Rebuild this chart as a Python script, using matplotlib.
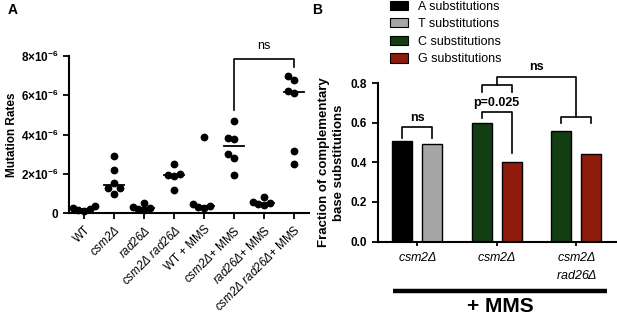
import numpy as np
import matplotlib
matplotlib.use("Agg")
import matplotlib.pyplot as plt
from matplotlib.patches import Patch

plt.rcParams['font.family'] = ['Liberation Sans', 'DejaVu Sans']
plt.rcParams['mathtext.fontset'] = 'custom'
# digits inside \mathit fall back to rm, so make rm italic too
plt.rcParams['mathtext.rm'] = 'Liberation Sans:italic'
plt.rcParams['mathtext.it'] = 'Liberation Sans:italic'
plt.rcParams['mathtext.bf'] = 'Liberation Sans:bold'

# ---- panel A data (mutation rates, x1e-6) ----
strains = [r"WT", r"$\mathit{csm2\Delta}$", r"$\mathit{rad26\Delta}$",
           r"$\mathit{csm2\Delta\ rad26\Delta}$", r"WT + MMS",
           r"$\mathit{csm2\Delta}$+ MMS", r"$\mathit{rad26\Delta}$+ MMS",
           r"$\mathit{csm2\Delta\ rad26\Delta}$+ MMS"]
rates = [
    [0.12, 0.18, 0.22, 0.28, 0.35],
    [1.00, 1.28, 1.28, 1.55, 2.20, 2.90],
    [0.15, 0.20, 0.25, 0.30, 0.50],
    [1.20, 1.92, 1.97, 2.02, 2.53],
    [0.25, 0.30, 0.35, 0.45, 3.88],
    [1.97, 2.81, 3.00, 3.80, 3.85, 4.68],
    [0.40, 0.45, 0.50, 0.55, 0.83],
    [2.53, 3.16, 6.12, 6.20, 6.77, 6.97],
]
a_ticks = [0, 2, 4, 6, 8]

# ---- panel B data ----
groups = [r"$\mathit{csm2\Delta}$", r"$\mathit{csm2\Delta}$",
          r"$\mathit{csm2\Delta}$" + "\n" + r"$\mathit{rad26\Delta}$"]
left_vals = [0.507, 0.598, 0.560]
right_vals = [0.492, 0.404, 0.441]
left_colors = ['black', '#133d13', '#133d13']
right_colors = ['#a6a6a6', '#8e1b0b', '#8e1b0b']
legend_labels = ['A substitutions', 'T substitutions', 'C substitutions', 'G substitutions']
legend_colors = ['black', '#a6a6a6', '#133d13', '#8e1b0b']

W, H = 617, 315
fig = plt.figure(figsize=(W / 100, H / 100), dpi=100)


def fbox(x0, y0, x1, y1):
    """pixel box (top-left origin) -> figure fraction rect"""
    return [x0 / W, 1 - y1 / H, (x1 - x0) / W, (y1 - y0) / H]


# ================= Panel A =================
ax = fig.add_axes(fbox(69, 56, 309, 213.3))
ax.set_xlim(-0.5, len(strains) - 0.5)
ax.set_ylim(0, 8e-6)
for s in ['top', 'right']:
    ax.spines[s].set_visible(False)
for s in ['left', 'bottom']:
    ax.spines[s].set_linewidth(1.5)

diam = 6.2  # marker diameter in px


def swarm(vals, center):
    trans = ax.transData
    placed = []
    xs = []
    for v in vals:
        px, py = trans.transform((center, v))
        for k in [0, -1, 1, -2, 2, -3, 3]:
            cx = px + k * diam * 0.9
            if all(np.hypot(cx - qx, py - qy) >= diam * 0.9 for qx, qy in placed):
                break
        placed.append((cx, py))
        xs.append(trans.inverted().transform((cx, py))[0])
    return xs


for i, vals in enumerate(rates):
    v = np.array(vals) * 1e-6
    xs = swarm(v, i)
    ax.plot(xs, v, 'o', color='black', markersize=4.6, clip_on=False, zorder=3)
    ax.plot([i - 0.33, i + 0.33], [np.median(v)] * 2, color='black', lw=1.3, zorder=4)

ax.set_xticks(range(len(strains)))
ax.set_xticklabels(strains, rotation=45, ha='right', rotation_mode='anchor', fontsize=8.4)
ax.set_yticks([t * 1e-6 for t in a_ticks])
ax.set_yticklabels(['0'] + [r"$\mathbf{%d{\times}10^{-6}}$" % t for t in a_ticks[1:]],
                   fontsize=8.5, fontweight='bold')
ax.tick_params(width=1.3, length=4)
ax.set_ylabel('Mutation Rates', fontsize=8.5, fontweight='bold', labelpad=2)

# ns bracket
ax.plot([5, 5, 7, 7], [5.24e-6, 7.87e-6, 7.87e-6, 7.45e-6], color='black', lw=1.2, clip_on=False)
ax.text(6, 8.2e-6, 'ns', ha='center', va='bottom', fontsize=9)

fig.text(8 / W, 1 - 10 / H, 'A', fontsize=10, fontweight='bold', ha='left', va='center')

# ================= Panel B =================
bx = fig.add_axes(fbox(377.5, 83.3, 616, 241.5))
bx.set_xlim(-0.5, len(groups) - 0.5)
bx.set_ylim(0, 0.8)
for s in ['top', 'right']:
    bx.spines[s].set_visible(False)
for s in ['left', 'bottom']:
    bx.spines[s].set_linewidth(1.5)

pos = np.arange(len(groups))
off, bw = 0.19, 0.25
bx.bar(pos - off, left_vals, bw, color=left_colors, edgecolor='black', linewidth=1.0)
bx.bar(pos + off, right_vals, bw, color=right_colors, edgecolor='black', linewidth=1.0)

bx.set_xticks(pos)
bx.set_xticklabels(groups, fontsize=9, linespacing=1.5)
bx.set_yticks([0, 0.2, 0.4, 0.6, 0.8])
bx.set_yticklabels(['0.0', '0.2', '0.4', '0.6', '0.8'], fontsize=8.5, fontweight='bold')
bx.tick_params(width=1.3, length=4)
bx.tick_params(axis='x', length=3)
bx.set_ylabel('Fraction of complementary\nbase substitutions', fontsize=9.5,
              fontweight='bold', labelpad=4, linespacing=1.3)


def bracket(x0, x1, ytop, y0, y1):
    bx.plot([x0, x0, x1, x1], [y0, ytop, ytop, y1], color='black', lw=1.2,
            clip_on=False)


# group 1 ns
bracket(-off, off, 0.578, 0.522, 0.522)
bx.text(0, 0.595, 'ns', ha='center', va='bottom', fontsize=9, fontweight='bold')
# group 2 p=0.025
bracket(1 - off, 1 + off, 0.653, 0.623, 0.446)
bx.text(1, 0.668, 'p=0.025', ha='center', va='bottom', fontsize=9, fontweight='bold')
# upper comparison
bracket(1 - off, 1 + off, 0.791, 0.758, 0.758)
bracket(2 - off, 2 + off, 0.631, 0.598, 0.598)
bracket(1, 2, 0.830, 0.791, 0.631)
bx.text(1.5, 0.85, 'ns', ha='center', va='bottom', fontsize=9, fontweight='bold')

# + MMS bar under panel B
tr = bx.get_xaxis_transform()
bx.plot([-0.309, 2.383], [-0.311, -0.311], color='black', lw=3.2, transform=tr,
        clip_on=False, solid_capstyle='butt')
bx.text(1.04, -0.41, '+ MMS', transform=tr, ha='center', va='center',
        fontsize=15, fontweight='bold')

handles = [Patch(facecolor=c, edgecolor='black', linewidth=0.8, label=l)
           for c, l in zip(legend_colors, legend_labels)]
fig.legend(handles=handles, loc='upper left', bbox_to_anchor=(390 / W, 1 - 0.5 / H),
           frameon=False, fontsize=9, borderpad=0, borderaxespad=0,
           handlelength=1.45, handleheight=0.75, handletextpad=0.8, labelspacing=0.45)

fig.text(317 / W, 1 - 10 / H, 'B', fontsize=10, fontweight='bold', ha='center', va='center')

fig.savefig('out.png', dpi=100)
